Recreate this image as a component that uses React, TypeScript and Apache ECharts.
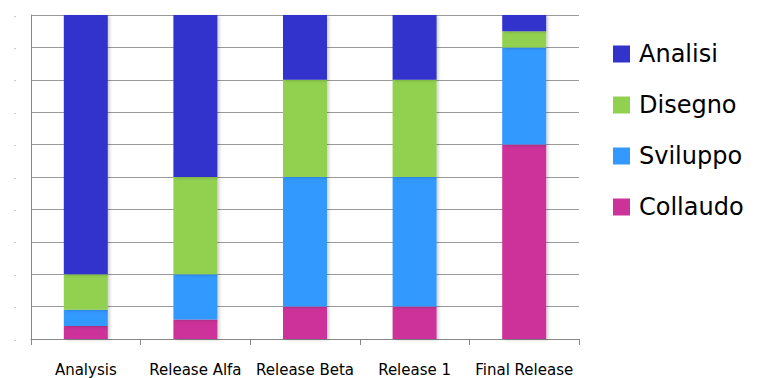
import React, { useEffect, useRef } from "react";
import * as echarts from "echarts";

const categories = ["Analysis", "Release Alfa", "Release Beta", "Release 1", "Final Release"];
const seriesNames = ["Analisi", "Disegno", "Sviluppo", "Collaudo"];
const collaudo = [4, 6, 10, 10, 60];
const sviluppo = [5, 14, 40, 40, 30];
const disegno = [11, 30, 30, 30, 5];
const analisi = [80, 50, 20, 20, 5];
const colors: Record<string, string> = {
  Analisi: "#3333CC",
  Disegno: "#92D050",
  Sviluppo: "#3399FF",
  Collaudo: "#CC3399",
};

export default function App() {
  const ref = useRef<HTMLDivElement>(null);
  useEffect(() => {
    if (!ref.current) return;
    const chart = echarts.init(ref.current, undefined, { renderer: "svg" });
    const mk = (name: string, data: number[]) => ({
      name,
      type: "bar",
      stack: "total",
      data,
      barWidth: 44,
      itemStyle: {
        color: colors[name],
        shadowColor: "rgba(0,0,0,0.18)",
        shadowBlur: 3,
        shadowOffsetX: 2,
        shadowOffsetY: 1,
      },
    });
    chart.setOption({
      animation: false,
      backgroundColor: "#ffffff",
      grid: { left: 31, right: 189, top: 15, bottom: 39, containLabel: false },
      legend: {
        orient: "vertical",
        left: 608,
        top: 34,
        itemWidth: 17,
        itemHeight: 17,
        itemGap: 21,
        icon: "rect",
        data: seriesNames,
        textStyle: {
          fontFamily: "DejaVu Sans",
          fontSize: 24,
          lineHeight: 30,
          color: "#000",
          padding: [0, 0, 0, 4],
        },
      },
      xAxis: {
        type: "category",
        data: categories,
        axisLine: { lineStyle: { color: "#888", width: 1 } },
        axisTick: { show: true, length: 6, lineStyle: { color: "#888" } },
        axisLabel: {
          fontFamily: "DejaVu Sans",
          fontSize: 15,
          color: "#000",
          margin: 23,
          interval: 0,
        },
      },
      yAxis: {
        type: "value",
        min: 0,
        max: 100,
        interval: 10,
        axisLine: { show: true, lineStyle: { color: "#888", width: 1 } },
        axisTick: { show: false },
        splitLine: { lineStyle: { color: "#999", width: 1 } },
        axisLabel: {
          formatter: () => "-",
          fontSize: 7,
          color: "#999",
          margin: 15,
        },
      },
      series: [
        mk("Collaudo", collaudo),
        mk("Sviluppo", sviluppo),
        mk("Disegno", disegno),
        mk("Analisi", analisi),
      ],
    });
    return () => chart.dispose();
  }, []);
  return <div ref={ref} style={{ width: 768, height: 378, position: "absolute", left: 0, top: 0 }} />;
}
